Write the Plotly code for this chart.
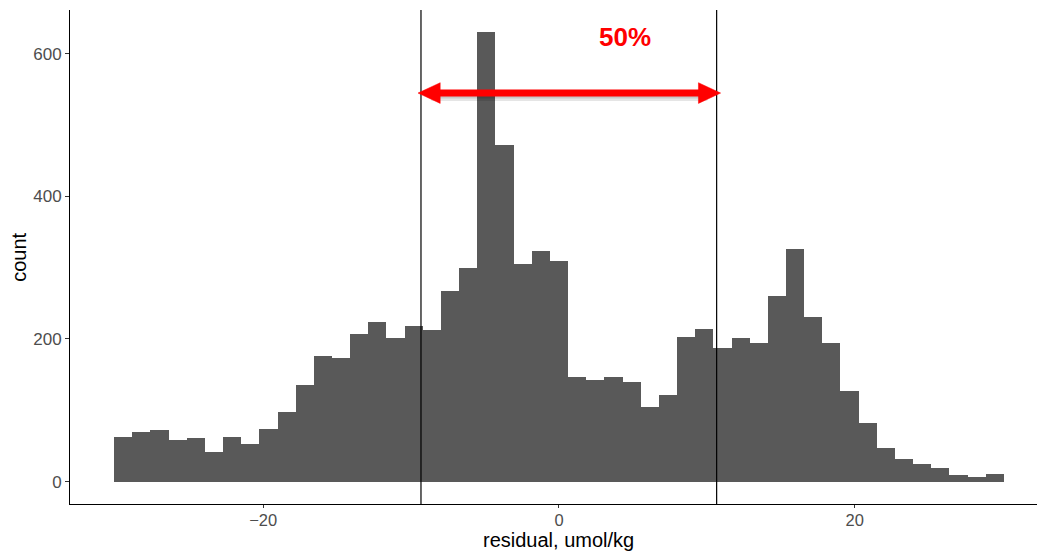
import plotly.graph_objects as go

# Histogram of residuals: equal-width bins, counts per bin
BIN_START = -30.08
BIN_WIDTH = 1.2278
counts = [63, 70, 72, 58, 61, 42, 63, 53, 74, 97,
          135, 176, 173, 207, 224, 202, 218, 212, 267, 299,
          630, 472, 305, 324, 309, 146, 142, 146, 140, 104,
          121, 203, 214, 188, 201, 194, 260, 326, 231, 194,
          127, 82, 47, 32, 24, 19, 9, 6, 11]

# Interval bounds marked by vertical lines, and the label above them
interval = [-9.33, 10.66]
interval_label = "50%"
arrow_level = 545

x_ticks = [-20, 0, 20]
y_ticks = [0, 200, 400, 600]

centers = [BIN_START + BIN_WIDTH * (i + 0.5) for i in range(len(counts))]

FONT = "Liberation Sans, Arial, sans-serif"

fig = go.Figure()
fig.add_trace(go.Bar(
    x=centers, y=counts, width=[BIN_WIDTH] * len(counts),
    marker=dict(color="#595959", line=dict(width=0)),
    hoverinfo="x+y", showlegend=False,
))

shapes = []
for v in interval:
    shapes.append(dict(type="line", xref="x", yref="paper", x0=v, x1=v, y0=0, y1=1,
                       line=dict(color="black", width=1.2), layer="above"))

# double-headed red arrow spanning the interval
left, right = interval
tip_l, tip_r = left - 0.2, right + 0.27
head_len = 1.5
head_half = 14.5
y_px = 1 / 0.7136  # count units per pixel
for off, alpha, w in [(4, 0.10, 8), (3, 0.12, 5)]:
    shapes.append(dict(type="line", xref="x", yref="y",
                       x0=tip_l + head_len * 0.6, x1=tip_r - head_len * 0.6,
                       y0=arrow_level - off * y_px, y1=arrow_level - off * y_px,
                       line=dict(color=f"rgba(0,0,0,{alpha})", width=w), layer="above"))
shapes.append(dict(type="line", xref="x", yref="y",
                   x0=tip_l + head_len * 0.5, x1=tip_r - head_len * 0.5,
                   y0=arrow_level, y1=arrow_level,
                   line=dict(color="#FF0000", width=7), layer="above"))
for tip, d in [(tip_l, 1), (tip_r, -1)]:
    back = tip + d * head_len
    path = (f"M {tip},{arrow_level} L {back},{arrow_level + head_half} "
            f"L {back},{arrow_level - head_half} Z")
    shapes.append(dict(type="path", xref="x", yref="y", path=path,
                       fillcolor="#FF0000", line=dict(color="#FF0000", width=0.5),
                       layer="above"))

annotations = [
    dict(text=f"<b>{interval_label}</b>", x=4.46, y=623, xref="x", yref="y",
         showarrow=False, font=dict(family=FONT, size=26, color="#FF0000"),
         xanchor="center", yanchor="middle"),
    dict(text="residual, umol/kg", x=0, y=-0.073, xref="x", yref="paper",
         showarrow=False, font=dict(family=FONT, size=20, color="black"),
         xanchor="center", yanchor="middle"),
    dict(text="count", x=-0.053, y=0.5, xref="paper", yref="paper", textangle=-90,
         showarrow=False, font=dict(family=FONT, size=20, color="black"),
         xanchor="center", yanchor="middle"),
]

fig.update_layout(
    width=1037, height=551,
    margin=dict(l=70, r=0, t=10, b=47),
    paper_bgcolor="white", plot_bgcolor="white",
    bargap=0, shapes=shapes, annotations=annotations,
    font=dict(family=FONT),
)
fig.update_xaxes(range=[-33.06, 32.32], tickvals=x_ticks, showgrid=False, zeroline=False,
                 showline=True, linecolor="black", linewidth=1,
                 ticks="outside", ticklen=3, tickcolor="#333333", ticklabelstandoff=-2,
                 tickfont=dict(family=FONT, size=16.5, color="#4D4D4D"))
fig.update_yaxes(range=[-31.5, 661.5], tickvals=y_ticks, showgrid=False, zeroline=False,
                 showline=True, linecolor="black", linewidth=1,
                 ticks="outside", ticklen=4, tickcolor="#333333",
                 tickfont=dict(family=FONT, size=17, color="#4D4D4D"))

fig.write_html("out.html")
